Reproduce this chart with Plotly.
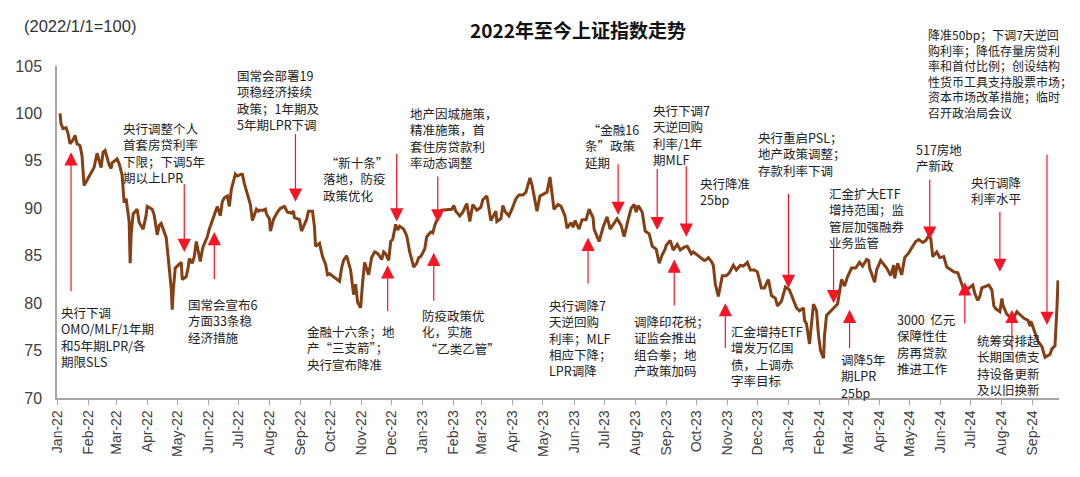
import plotly.graph_objects as go

# ---------------- data: Shanghai Composite, 2022/1/1 = 100 ----------------
dates_2022 = ["2022-01-04","2022-01-05","2022-01-07","2022-01-10","2022-01-12","2022-01-14","2022-01-17","2022-01-19","2022-01-21","2022-01-24","2022-01-26","2022-01-28",
"2022-02-07","2022-02-10","2022-02-14","2022-02-16","2022-02-18","2022-02-22","2022-02-24","2022-02-25",
"2022-03-02","2022-03-04","2022-03-07","2022-03-09","2022-03-11","2022-03-14","2022-03-15","2022-03-16","2022-03-18","2022-03-22","2022-03-24","2022-03-28","2022-03-31",
"2022-04-01","2022-04-06","2022-04-08","2022-04-11","2022-04-13","2022-04-15","2022-04-18","2022-04-20","2022-04-22","2022-04-25","2022-04-26","2022-04-27","2022-04-29",
"2022-05-05","2022-05-06","2022-05-10","2022-05-12","2022-05-13","2022-05-16","2022-05-18","2022-05-20","2022-05-24","2022-05-26","2022-05-27","2022-05-31",
"2022-06-02","2022-06-08","2022-06-10","2022-06-13","2022-06-15","2022-06-17","2022-06-20","2022-06-22","2022-06-24","2022-06-28","2022-06-30",
"2022-07-04","2022-07-05","2022-07-07","2022-07-08","2022-07-11","2022-07-13","2022-07-15","2022-07-19","2022-07-21","2022-07-22","2022-07-26","2022-07-28","2022-07-29",
"2022-08-01","2022-08-02","2022-08-05","2022-08-09","2022-08-12","2022-08-16","2022-08-18","2022-08-19","2022-08-23","2022-08-25","2022-08-26","2022-08-31",
"2022-09-02","2022-09-05","2022-09-07","2022-09-09","2022-09-13","2022-09-15","2022-09-16","2022-09-20","2022-09-23","2022-09-26","2022-09-28","2022-09-30",
"2022-10-10","2022-10-12","2022-10-14","2022-10-17","2022-10-19","2022-10-21","2022-10-24","2022-10-26","2022-10-28","2022-10-31",
"2022-11-02","2022-11-04","2022-11-08","2022-11-11","2022-11-14","2022-11-16","2022-11-18","2022-11-21","2022-11-23","2022-11-25","2022-11-28","2022-11-30",
"2022-12-02","2022-12-05","2022-12-07","2022-12-09","2022-12-13","2022-12-16","2022-12-19","2022-12-21","2022-12-23","2022-12-26","2022-12-28","2022-12-30"]
values_2022 = [100.0,98.9,98.4,98.5,97.9,96.8,97.2,97.7,96.8,96.6,95.5,92.4,
94.3,95.8,94.3,95.9,96.1,94.6,94.2,94.8,
95.2,94.7,93.5,90.6,91.0,88.6,84.2,87.3,89.4,89.9,88.5,87.8,89.3,
90.2,89.9,89.3,87.2,88.2,88.4,87.5,86.9,84.8,81.5,79.3,81.3,83.7,
84.3,82.5,82.8,83.8,84.7,84.2,84.9,86.5,84.4,85.6,86.0,87.0,
87.8,89.6,90.2,89.2,90.7,91.1,91.3,90.2,92.0,93.6,93.4,
93.6,93.6,92.6,92.2,91.1,90.4,88.7,89.9,89.7,89.8,89.8,89.9,89.4,
88.9,87.6,88.8,89.6,90.0,90.2,89.7,89.6,89.5,89.7,89.0,88.8,
87.6,88.4,88.8,89.7,89.7,88.0,86.0,86.3,84.9,84.1,83.0,83.1,
82.3,83.7,84.5,85.0,84.1,83.5,80.9,82.0,80.1,79.5,
82.2,84.3,83.0,84.8,85.4,85.3,85.1,84.6,85.4,85.2,84.5,86.5,
86.7,88.3,87.7,88.1,87.8,87.1,85.4,84.7,83.8,84.2,84.8,84.9]

dates_2023 = ["2023-01-03","2023-01-05","2023-01-09","2023-01-11","2023-01-13","2023-01-16","2023-01-18","2023-01-20","2023-01-30",
"2023-02-01","2023-02-03","2023-02-07","2023-02-10","2023-02-14","2023-02-17","2023-02-20","2023-02-24","2023-02-28",
"2023-03-02","2023-03-06","2023-03-08","2023-03-10","2023-03-15","2023-03-16","2023-03-20","2023-03-22","2023-03-24","2023-03-28","2023-03-31",
"2023-04-04","2023-04-07","2023-04-11","2023-04-14","2023-04-18","2023-04-20","2023-04-25","2023-04-28",
"2023-05-05","2023-05-08","2023-05-10","2023-05-12","2023-05-16","2023-05-19","2023-05-23","2023-05-25","2023-05-29","2023-05-31",
"2023-06-02","2023-06-06","2023-06-09","2023-06-13","2023-06-16","2023-06-20","2023-06-21","2023-06-26","2023-06-30",
"2023-07-04","2023-07-07","2023-07-11","2023-07-14","2023-07-18","2023-07-21","2023-07-25","2023-07-28","2023-07-31",
"2023-08-02","2023-08-04","2023-08-08","2023-08-11","2023-08-15","2023-08-18","2023-08-22","2023-08-25","2023-08-28","2023-08-31",
"2023-09-01","2023-09-05","2023-09-08","2023-09-12","2023-09-15","2023-09-19","2023-09-22","2023-09-26","2023-09-28",
"2023-10-09","2023-10-11","2023-10-13","2023-10-16","2023-10-18","2023-10-20","2023-10-23","2023-10-25","2023-10-27","2023-10-31",
"2023-11-03","2023-11-07","2023-11-10","2023-11-14","2023-11-17","2023-11-21","2023-11-24","2023-11-28",
"2023-12-01","2023-12-05","2023-12-08","2023-12-12","2023-12-15","2023-12-19","2023-12-21","2023-12-25","2023-12-29"]
values_2023 = [85.7,87.0,87.5,87.4,88.2,89.0,89.2,89.8,89.9,
90.3,89.7,89.2,89.6,90.5,88.6,90.4,89.8,90.1,
90.9,91.3,90.2,88.7,89.7,88.6,88.9,90.3,89.7,89.2,89.9,
91.0,91.4,91.4,91.7,93.2,92.5,89.7,91.3,
91.7,93.3,91.6,89.9,90.4,90.2,89.2,87.9,88.5,88.0,
88.7,87.8,88.8,88.8,89.9,89.0,87.8,86.5,88.0,
89.1,87.8,88.5,88.9,88.2,87.0,88.8,90.0,90.4,
89.6,90.3,89.6,87.6,87.3,86.0,85.7,84.2,85.1,85.7,
86.1,86.6,85.6,86.2,85.6,85.9,86.0,85.2,85.4,
84.5,84.6,84.8,84.4,84.0,82.0,80.7,81.7,82.9,82.9,
83.2,84.0,83.5,84.0,83.9,84.3,83.5,83.5,
83.3,81.6,81.6,82.5,80.8,80.5,79.7,80.2,81.7]

dates_2024 = ["2024-01-02","2024-01-05","2024-01-09","2024-01-12","2024-01-16","2024-01-17","2024-01-19","2024-01-22","2024-01-24","2024-01-26","2024-01-29","2024-01-31",
"2024-02-02","2024-02-05","2024-02-06","2024-02-07","2024-02-08","2024-02-19","2024-02-21","2024-02-23","2024-02-26","2024-02-29",
"2024-03-04","2024-03-08","2024-03-12","2024-03-15","2024-03-19","2024-03-21","2024-03-22","2024-03-27","2024-03-29",
"2024-04-02","2024-04-08","2024-04-12","2024-04-15","2024-04-16","2024-04-19","2024-04-23","2024-04-26","2024-04-30",
"2024-05-07","2024-05-10","2024-05-14","2024-05-17","2024-05-20","2024-05-22","2024-05-24","2024-05-28","2024-05-31",
"2024-06-04","2024-06-07","2024-06-12","2024-06-14","2024-06-18","2024-06-21","2024-06-24","2024-06-26","2024-06-28",
"2024-07-03","2024-07-05","2024-07-08","2024-07-10","2024-07-12","2024-07-16","2024-07-19","2024-07-22","2024-07-24","2024-07-26","2024-07-30",
"2024-08-01","2024-08-02","2024-08-06","2024-08-09","2024-08-13","2024-08-16","2024-08-20","2024-08-23","2024-08-27","2024-08-29","2024-08-30",
"2024-09-03","2024-09-06","2024-09-10","2024-09-13","2024-09-18","2024-09-20","2024-09-23","2024-09-24","2024-09-25","2024-09-26"]
values_2024 = [81.4,80.5,79.5,79.2,79.5,78.2,77.8,75.7,77.5,79.9,79.2,76.6,
75.0,74.2,76.6,77.7,78.7,79.9,81.1,82.5,81.8,82.8,
83.7,83.7,84.3,83.9,84.6,84.5,83.7,82.2,83.5,
84.5,83.7,82.9,84.0,82.6,84.2,83.0,84.8,85.3,
86.5,86.7,86.4,86.6,87.1,86.8,84.9,85.4,84.8,
84.9,83.8,83.4,83.3,83.2,82.4,81.4,81.6,81.5,
81.9,81.0,80.3,80.7,81.6,81.8,81.9,81.4,79.7,79.4,79.1,
80.5,79.8,78.8,78.6,78.5,79.1,78.7,78.4,78.2,77.6,78.1,
77.0,76.0,75.4,74.3,74.6,75.2,75.5,78.7,79.6,82.4]

y_ticks = [70, 75, 80, 85, 90, 95, 100, 105]

# ---------------- policy events ----------------
event_texts = [
    "央行下调<br>OMO/MLF/1年期<br>和5年期LPR/各<br>期限SLS",
    "央行调整个人<br>首套房贷利率<br>下限；下调5年<br>期以上LPR",
    "国常会宣布6<br>方面33条稳<br>经济措施",
    "国常会部署19<br>项稳经济接续<br>政策；1年期及<br>5年期LPR下调",
    " “新十条”<br>落地，防疫<br>政策优化",
    "金融十六条；地<br>产“三支箭”；<br>央行宣布降准",
    "地产因城施策，<br>精准施策，首<br>套住房贷款利<br>率动态调整",
    "防疫政策优<br>化，实施<br> “乙类乙管”",
    " “金融16<br>条”政策<br>延期",
    "央行调降7<br>天逆回购<br>利率；MLF<br>相应下降；<br>LPR调降",
    "央行下调7<br>天逆回购<br>利率/1年<br>期MLF",
    "央行降准<br>25bp",
    "调降印花税；<br>证监会推出<br>组合拳；地<br>产政策加码",
    "汇金增持ETF<br>增发万亿国<br>债，上调赤<br>字率目标",
    "央行重启PSL；<br>地产政策调整；<br>存款利率下调",
    "汇金扩大ETF<br>增持范围；监<br>管层加强融券<br>业务监管",
    "调降5年<br>期LPR<br>25bp",
    "517房地<br>产新政",
    "3000  亿元<br>保障性住<br>房再贷款<br>推进工作",
    "央行调降<br>利率水平",
    "统筹安排超<br>长期国债支<br>持设备更新<br>及以旧换新",
    "降准50bp；下调7天逆回<br>购利率；降低存量房贷利<br>率和首付比例；创设结构<br>性货币工具支持股票市场；<br>资本市场改革措施；临时<br>召开政治局会议",
]
event_dates = ["2022-01-15","2022-05-08","2022-06-07","2022-08-27","2022-12-06","2022-11-27",
               "2023-01-16","2023-01-12","2023-07-15","2023-06-15","2023-08-23","2023-09-21",
               "2023-09-09","2023-10-30","2024-01-01","2024-02-15","2024-03-02","2024-05-21",
               "2024-06-25","2024-07-30","2024-08-11","2024-09-15"]
arrow_tips = [95.9, 85.4, 87.5, 90.7, 88.6, 84.0, 88.5, 85.3, 89.3, 86.9, 87.7, 87.0,
              84.6, 80.0, 81.6, 80.0, 79.3, 86.7, 82.2, 83.3, 79.3, 77.7]
arrow_tails = [81.1, 92.7, 82.4, 98.0, 95.9, 79.0, 93.5, 80.1, 94.8, 81.9, 94.3, 94.6,
               79.6, 75.1, 91.7, 85.9, 75.1, 93.2, 77.7, 89.8, 74.9, 95.8]

# text block placement (left, top) in page pixels, and font size
text_left = [60, 122, 187, 236, 322, 306, 409, 421, 584, 548, 652, 699, 633, 730, 757, 828, 840, 915, 896, 970, 976, 927]
text_top = [302, 118, 294, 65, 152, 321, 103, 305, 119, 295, 100, 173, 311, 321, 127, 183, 349, 139, 309, 172, 330, 25]
text_size = [12.5] * 21 + [12]

# ---------------- figure geometry ----------------
OFF = 8                     # page body margin in the browser
PAGE_W, PAGE_H = 1080, 477
W, H = PAGE_W - OFF, PAGE_H - OFF
PLOT_L, PLOT_T, PLOT_R, PLOT_B = 57, 66, 1059, 398   # plot area in page pixels
L, T = PLOT_L - OFF, PLOT_T - OFF
R, B = W - (PLOT_R - OFF), H - (PLOT_B - OFF)
PW, PH = PLOT_R - PLOT_L, PLOT_B - PLOT_T


def px_to_paper_x(px):
    return (px - PLOT_L) / PW


def py_to_paper_y(py):
    return (PLOT_B - py) / PH


dates = dates_2022 + dates_2023 + dates_2024
values = values_2022 + values_2023 + values_2024

fig = go.Figure()
fig.add_trace(go.Scatter(x=dates, y=values, mode="lines",
                         line=dict(color="#843F15", width=3), hoverinfo="skip",
                         showlegend=False))

for d, tip, tail in zip(event_dates, arrow_tips, arrow_tails):
    fig.add_annotation(x=d, y=tip, ax=d, ay=tail, xref="x", yref="y",
                       axref="x", ayref="y", text="", showarrow=True,
                       arrowhead=2, arrowsize=2.2, arrowwidth=1.2,
                       arrowcolor="#F51525", standoff=0)

for txt, px, py, fs in zip(event_texts, text_left, text_top, text_size):
    fig.add_annotation(x=px_to_paper_x(px), y=py_to_paper_y(py), xref="paper", yref="paper",
                       xanchor="left", yanchor="top", text=txt, showarrow=False,
                       align="left", borderpad=0,
                       font=dict(family="Noto Sans CJK SC", size=fs, color="#222222"))

fig.add_annotation(x=px_to_paper_x(22), y=py_to_paper_y(26), xref="paper", yref="paper",
                   xanchor="left", yanchor="middle", text="(2022/1/1=100)",
                   showarrow=False, font=dict(family="Liberation Sans", size=16.5, color="#333333"))

fig.update_layout(
    width=W, height=H,
    margin=dict(l=L, r=R, t=T, b=B, autoexpand=False),
    paper_bgcolor="white", plot_bgcolor="white",
    title=dict(text="<b>2022年至今上证指数走势</b>", x=(578 - OFF) / W, y=1 - (31 - OFF) / H,
               xanchor="center", yanchor="middle",
               font=dict(family="Noto Sans CJK SC", size=19, color="#111111")),
    showlegend=False,
)
fig.update_xaxes(type="date", range=["2022-01-01", "2024-09-27"],
                 tick0="2022-01-01", dtick="M1", tickformat="%b-%y", tickangle=-90,
                 ticks="outside", ticklen=5, tickcolor="#A6A6A6", tickwidth=1,
                 showline=True, linecolor="#A6A6A6", linewidth=1.5,
                 showgrid=False, zeroline=False, automargin=False,
                 tickfont=dict(family="Liberation Sans", size=14, color="#404040"))
fig.update_yaxes(range=[70, 105], tickvals=y_ticks, ticks="",
                 showline=True, linecolor="#A6A6A6", linewidth=1.5,
                 showgrid=False, zeroline=False, ticklabelstandoff=10, automargin=False,
                 tickfont=dict(family="Liberation Sans", size=16, color="#404040"))

fig.write_html("out.html")
